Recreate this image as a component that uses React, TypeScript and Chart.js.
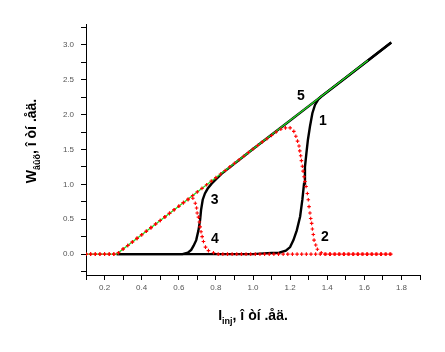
import { useEffect, useRef } from 'react';
import { Chart, registerables } from 'chart.js';

Chart.register(...registerables);

// ---- axis ticks ----
const xTickValues = [0.1, 0.2, 0.3, 0.4, 0.5, 0.6, 0.7, 0.8, 0.9, 1.0, 1.1, 1.2, 1.3, 1.4, 1.5, 1.6, 1.7, 1.8, 1.9];
const xMajorLabels = ['0.2', '0.4', '0.6', '0.8', '1.0', '1.2', '1.4', '1.6', '1.8'];
const yTickValues = [-0.25, 0, 0.25, 0.5, 0.75, 1.0, 1.25, 1.5, 1.75, 2.0, 2.25, 2.5, 2.75, 3.0, 3.25];
const yMajorLabels = ['0.0', '0.5', '1.0', '1.5', '2.0', '2.5', '3.0'];

// ---- curve 1 (black) ----
const c1X = [0.265, 0.6, 1.0, 1.06, 1.1, 1.141, 1.177, 1.2, 1.218, 1.236, 1.254, 1.266, 1.275, 1.28, 1.288, 1.296, 1.307, 1.32, 1.334, 1.352, 1.368, 1.5, 1.745];
const c1Y = [0, 0, 0, 0.01, 0.015, 0.02, 0.05, 0.1, 0.2, 0.34, 0.54, 0.78, 1.01, 1.25, 1.45, 1.64, 1.83, 2.02, 2.14, 2.22, 2.26, 2.53, 3.034];

// ---- curve 3 (black) ----
const c3X = [0.265, 0.4, 0.55, 0.62, 0.649, 0.667, 0.68, 0.694, 0.706, 0.715, 0.72, 0.729, 0.741, 0.756, 0.777, 0.8, 0.83, 1.0, 1.2, 1.4, 1.6, 1.745];
const c3Y = [0, 0, 0, 0, 0.02, 0.06, 0.12, 0.2, 0.34, 0.49, 0.63, 0.78, 0.87, 0.94, 1.01, 1.07, 1.15, 1.507, 1.917, 2.327, 2.737, 3.034];

// ---- curve 5 (green) ----
const c5X = [0.1, 0.265, 0.6, 1.0, 1.4, 1.62];
const c5Y = [0, 0, 0.687, 1.507, 2.327, 2.78];

// ---- curve 2 (red markers) ----
const c2X = [0.1, 0.125, 0.15, 0.175, 0.2, 0.225, 0.25,
  0.275, 0.3, 0.325, 0.35, 0.375, 0.4, 0.425, 0.45, 0.475, 0.5, 0.525, 0.55, 0.575, 0.6, 0.625, 0.65, 0.675, 0.7, 0.725, 0.75, 0.775, 0.8, 0.825, 0.85, 0.875, 0.9, 0.925, 0.95, 0.975, 1.0, 1.025, 1.05, 1.075,
  1.1, 1.125, 1.15, 1.175, 1.2,
  1.22, 1.231, 1.24, 1.248, 1.252, 1.257, 1.261, 1.266, 1.27, 1.275, 1.28, 1.286, 1.293, 1.298, 1.302, 1.307, 1.311, 1.316, 1.32, 1.325, 1.329, 1.338, 1.347, 1.368,
  1.3925, 1.4175, 1.4425, 1.4675, 1.4925, 1.5175, 1.5425, 1.5675, 1.5925, 1.6175, 1.6425, 1.6675, 1.6925, 1.7175, 1.7425];
const c2Y = [0, 0, 0, 0, 0, 0, 0,
  0.02, 0.072, 0.123, 0.174, 0.226, 0.277, 0.328, 0.379, 0.431, 0.482, 0.533, 0.584, 0.636, 0.687, 0.738, 0.789, 0.841, 0.892, 0.943, 0.994, 1.046, 1.097, 1.148, 1.199, 1.251, 1.302, 1.353, 1.404, 1.456, 1.507, 1.558, 1.609, 1.655,
  1.70, 1.75, 1.79, 1.81, 1.81,
  1.76, 1.69, 1.62, 1.55, 1.48, 1.41, 1.34, 1.26, 1.19, 1.11, 1.04, 0.97, 0.87, 0.78, 0.68, 0.59, 0.51, 0.44, 0.36, 0.28, 0.2, 0.13, 0.07, 0.02,
  0, 0, 0, 0, 0, 0, 0, 0, 0, 0, 0, 0, 0, 0, 0];

// ---- curve 4 (red markers) ----
const c4X = [0.1, 0.125, 0.15, 0.175, 0.2, 0.225, 0.25,
  0.275, 0.3, 0.325, 0.35, 0.375, 0.4, 0.425, 0.45, 0.475, 0.5, 0.525, 0.55, 0.575, 0.6, 0.625, 0.65, 0.676,
  0.689, 0.696, 0.699, 0.706, 0.711, 0.715, 0.72, 0.726, 0.733, 0.744, 0.76, 0.787,
  0.8125, 0.8375, 0.8625, 0.8875, 0.9125, 0.9375, 0.9625, 0.9875, 1.0125, 1.0375, 1.0625, 1.0875, 1.1125, 1.1375, 1.1625, 1.1875, 1.2125, 1.2375, 1.2625, 1.2875, 1.3125, 1.3375, 1.3625, 1.3875, 1.4125, 1.4375, 1.4625, 1.4875, 1.5125, 1.5375, 1.5625, 1.5875, 1.6125, 1.6375, 1.6625, 1.6875, 1.7125, 1.7375];
const c4Y = [0, 0, 0, 0, 0, 0, 0,
  0.02, 0.072, 0.123, 0.174, 0.226, 0.277, 0.328, 0.379, 0.431, 0.482, 0.533, 0.584, 0.636, 0.687, 0.738, 0.78, 0.80,
  0.73, 0.66, 0.59, 0.53, 0.46, 0.39, 0.32, 0.25, 0.18, 0.10, 0.05, 0.02,
  0, 0, 0, 0, 0, 0, 0, 0, 0, 0, 0, 0, 0, 0, 0, 0, 0, 0, 0, 0, 0, 0, 0, 0, 0, 0, 0, 0, 0, 0, 0, 0, 0, 0, 0, 0, 0, 0];

// ---- curve number labels (data coordinates) ----
const curveLabels = ['5', '1', '3', '4', '2'];
const curveLabelX = [1.258, 1.376, 0.793, 0.795, 1.387];
const curveLabelY = [2.27, 1.9, 0.77, 0.21, 0.24];

const FONT = '"Liberation Sans", Arial, sans-serif';

const pts = (xs: number[], ys: number[]) => xs.map((x, i) => ({ x, y: ys[i] }));
const near = (v: number, list: string[]) => list.some((l) => Math.abs(parseFloat(l) - v) < 1e-6);

function drawParts(ctx: CanvasRenderingContext2D, parts: { t: string; f: string; dy: number }[]) {
  let total = 0;
  for (const p of parts) { ctx.font = p.f; total += ctx.measureText(p.t).width; }
  let x = -total / 2;
  for (const p of parts) {
    ctx.font = p.f;
    ctx.fillText(p.t, x, p.dy);
    x += ctx.measureText(p.t).width;
  }
}

const annotPlugin = {
  id: 'annot',
  afterDraw(chart: any) {
    const { ctx } = chart;
    const xs = chart.scales.x;
    const ys = chart.scales.y;
    ctx.save();
    ctx.fillStyle = '#000';
    ctx.textBaseline = 'alphabetic';
    ctx.textAlign = 'left';
    const main = `bold 14px ${FONT}`;
    const sub = `bold 9px ${FONT}`;
    // x title
    ctx.save();
    ctx.translate(253, 320);
    drawParts(ctx, [
      { t: 'I', f: main, dy: 0 },
      { t: 'inj', f: sub, dy: 4 },
      { t: ', î òí .åä.', f: main, dy: 0 },
    ]);
    ctx.restore();
    // y title
    ctx.save();
    ctx.translate(35.5, 141);
    ctx.rotate(-Math.PI / 2);
    drawParts(ctx, [
      { t: 'W', f: main, dy: 0 },
      { t: 'âûõ', f: sub, dy: 4 },
      { t: ', î òí .åä.', f: main, dy: 0 },
    ]);
    ctx.restore();
    // curve numbers
    ctx.font = `bold 14px ${FONT}`;
    ctx.textAlign = 'center';
    ctx.textBaseline = 'middle';
    curveLabels.forEach((t, i) => {
      ctx.fillText(t, xs.getPixelForValue(curveLabelX[i]), ys.getPixelForValue(curveLabelY[i]));
    });
    ctx.restore();
  },
};

export default function App() {
  const ref = useRef<HTMLCanvasElement>(null);
  useEffect(() => {
    const lineDs = (label: string, data: any[], color: string, width: number, order: number) => ({
      label, data, showLine: true, borderColor: color, backgroundColor: color, borderWidth: width,
      pointRadius: 0, tension: 0, order,
    });
    const markDs = (label: string, data: any[], order: number) => ({
      label, data, showLine: false, pointStyle: 'cross', pointRadius: 1.8, pointBorderWidth: 1.1,
      borderColor: '#ff0000', backgroundColor: '#ff0000', order,
    });
    const chart = new Chart(ref.current!, {
      type: 'scatter',
      data: {
        datasets: [
          markDs('2', pts(c2X, c2Y), 1),
          markDs('4', pts(c4X, c4Y), 1),
          lineDs('5', pts(c5X, c5Y), '#22dd22', 1.2, 2),
          lineDs('1', pts(c1X, c1Y), '#000000', 2.4, 3),
          lineDs('3', pts(c3X, c3Y), '#000000', 2.4, 3),
        ] as any,
      },
      plugins: [annotPlugin],
      options: {
        responsive: false,
        animation: false,
        devicePixelRatio: 1,
        layout: { padding: { left: 46, right: 25, top: 24, bottom: 47 } },
        plugins: { legend: { display: false }, tooltip: { enabled: false } },
        scales: {
          x: {
            type: 'linear',
            min: 0.1,
            max: 1.9,
            afterBuildTicks: (s: any) => { s.ticks = xTickValues.map((v) => ({ value: v })); },
            afterFit: (s: any) => { s.height = 30; },
            grid: { display: true, drawOnChartArea: false, drawTicks: true, tickLength: 5, color: '#000', tickColor: '#000', lineWidth: 1 },
            border: { display: true, color: '#000', width: 1 },
            ticks: {
              autoSkip: false, maxRotation: 0, padding: 3, color: '#555',
              font: { family: FONT, size: 8 },
              callback: (v: any) => (near(Number(v), xMajorLabels) ? Number(v).toFixed(1) : ''),
            },
          },
          y: {
            type: 'linear',
            min: -0.3,
            max: 3.3,
            afterBuildTicks: (s: any) => { s.ticks = yTickValues.map((v) => ({ value: v })); },
            afterFit: (s: any) => { s.width = 40; },
            grid: { display: true, drawOnChartArea: false, drawTicks: true, tickLength: 5, color: '#000', tickColor: '#000', lineWidth: 1 },
            border: { display: true, color: '#000', width: 1 },
            ticks: {
              autoSkip: false, padding: 7, color: '#555',
              font: { family: FONT, size: 8 },
              callback: (v: any) => (near(Number(v), yMajorLabels) ? Number(v).toFixed(1) : ''),
            },
          },
        },
      } as any,
    });
    return () => chart.destroy();
  }, []);
  return (
    <canvas
      ref={ref}
      width={445}
      height={352}
      style={{ position: 'fixed', left: 0, top: 0, width: 445, height: 352 }}
    />
  );
}
